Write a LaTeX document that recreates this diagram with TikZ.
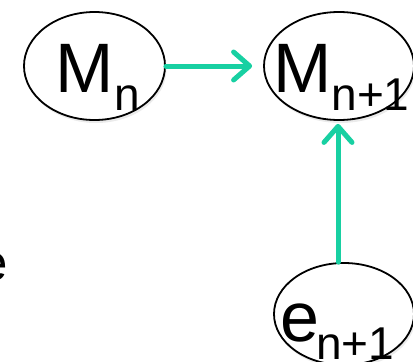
\documentclass[tikz,border=0pt]{standalone}
\usepackage{fontspec}
\setmainfont{Liberation Sans}
\usetikzlibrary{arrows.meta,shadows,shapes.geometric}
\definecolor{teal1}{RGB}{24,208,162}
\newcommand{\bigtxt}{\fontsize{70}{84}\selectfont}
\newcommand{\subtxt}[1]{\raisebox{-18pt}{\fontsize{46}{55}\selectfont #1}}
\tikzset{
  ell/.style={ellipse, draw=black, line width=1.8pt, fill=white,
    drop shadow={opacity=0.16, shadow xshift=1.5pt, shadow yshift=-3pt},
    inner sep=0pt},
  lbl/.style={anchor=base west, inner sep=0pt},
  arr/.style={draw=teal1, line width=5pt, line cap=round,
    -{Straight Barb[length=16pt, width=28pt, line width=5pt, round]}}
}
\begin{document}
\begin{tikzpicture}[x=1pt,y=1pt]
\useasboundingbox (0,0) rectangle (413,-362);
\node[ell, minimum width=141pt, minimum height=108pt] (Mn) at (94.5,-66) {};
\node[ell, minimum width=150pt, minimum height=108pt] (Mnp) at (339,-66) {};
\node[ell, minimum width=140pt, minimum height=102pt] (e) at (344,-314) {};
\node[lbl] (tMn) at (55,-92) {\bigtxt M\kern1pt\subtxt{n}};
\node[lbl] (tMnp) at (273,-92) {\bigtxt M\subtxt{n+1}};
\node[lbl] (te) at (280,-341) {\bigtxt e\kern-3pt\subtxt{n+1}};
\node[lbl] (tleft) at (-21,-280) {\fontsize{51}{60}\selectfont e};
\draw[arr, shorten >=11pt] (Mn.east) -- (Mnp.west);
\draw[arr, shorten >=3pt] (e.north -| 338,0) -- (Mnp.south -| 338,0);
\end{tikzpicture}
\end{document}
